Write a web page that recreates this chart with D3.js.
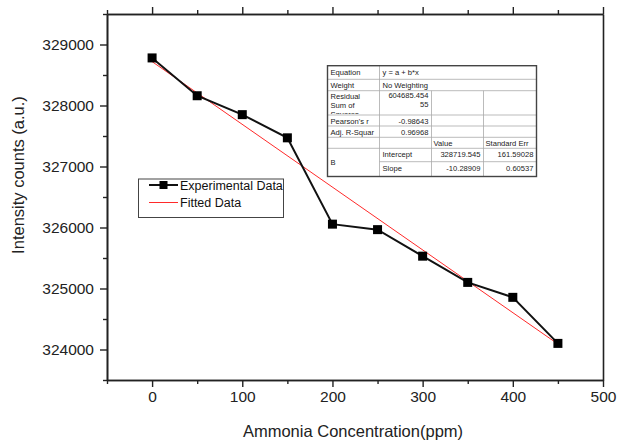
<!DOCTYPE html>
<html><head><meta charset="utf-8">
<script src="https://cdn.jsdelivr.net/npm/d3@7"></script>
<style>
html,body{margin:0;padding:0;background:#fff;}
text{font-family:"Liberation Sans",Arial,sans-serif;}
</style></head>
<body><svg id="c" width="617" height="441"></svg>
<script>
// ---- data ----
const concentration = [0, 50, 100, 150, 200, 250, 300, 350, 400, 450];
const intensity = [328780, 328160, 327850, 327470, 326055, 325965, 325530, 325100, 324855, 324100];
const fitX = [0, 450];
const fitY = [328719.545, 324089.455];
const xTicks = [0, 100, 200, 300, 400, 500];
const xMinor = [-50, 50, 150, 250, 350, 450];
const yTicks = [324000, 325000, 326000, 327000, 328000, 329000];
const yMinor = [323500, 324500, 325500, 326500, 327500, 328500, 329500];
const legendLabels = ["Experimental Data", "Fitted Data"];
const tableRowLabels = ["Equation", "Weight", "Residual Sum of Squares", "Pearson's r", "Adj. R-Square"];
const tableRowValues = ["y = a + b*x", "No Weighting", "604685.45455", "-0.98643", "0.96968"];
const tableColHeaders = ["Value", "Standard Err"];
const paramNames = ["Intercept", "Slope"];
const paramValues = ["328719.545", "-10.28909"];
const paramErrors = ["161.59028", "0.60537"];

const svg = d3.select("#c");
const L = 107, R = 603, T = 14, B = 380;
const x = d3.scaleLinear([-50, 500], [L, R]);
const y = d3.scaleLinear([323500, 329500], [B, T]);
const axisColor = "#222";

function styleAxis(g) {
  g.selectAll("path.domain").attr("stroke", axisColor).attr("stroke-width", 1.6);
  g.selectAll(".tick line").attr("stroke", axisColor).attr("stroke-width", 1.4);
  g.selectAll(".tick text").attr("fill", "#222").style("font-size", "15.5px")
    .style("font-family", "'Liberation Sans',Arial,sans-serif");
}
// bottom
svg.append("g").attr("transform", `translate(0,${B})`)
  .call(d3.axisBottom(x).tickValues(xMinor).tickSize(4).tickSizeOuter(0).tickFormat(""))
  .call(styleAxis);
svg.append("g").attr("transform", `translate(0,${B})`)
  .call(d3.axisBottom(x).tickValues(xTicks).tickSize(7).tickSizeOuter(0).tickPadding(4).tickFormat(d3.format("d")))
  .call(styleAxis);
// top
svg.append("g").attr("transform", `translate(0,${T})`)
  .call(d3.axisTop(x).tickValues(xMinor).tickSize(4).tickSizeOuter(0).tickFormat(""))
  .call(styleAxis);
svg.append("g").attr("transform", `translate(0,${T})`)
  .call(d3.axisTop(x).tickValues(xTicks).tickSize(7).tickSizeOuter(0).tickFormat(""))
  .call(styleAxis);
// left
svg.append("g").attr("transform", `translate(${L},0)`)
  .call(d3.axisLeft(y).tickValues(yMinor).tickSize(4).tickSizeOuter(0).tickFormat(""))
  .call(styleAxis);
svg.append("g").attr("transform", `translate(${L},0)`)
  .call(d3.axisLeft(y).tickValues(yTicks).tickSize(7).tickSizeOuter(0).tickPadding(6).tickFormat(d3.format("d")))
  .call(styleAxis);
// right
svg.append("g").attr("transform", `translate(${R},0)`)
  .call(d3.axisRight(y).tickValues([]).tickSizeOuter(0))
  .call(styleAxis);

// axis titles
svg.append("text").attr("x", 353).attr("y", 437).attr("text-anchor", "middle")
  .style("font-size", "16.5px").attr("fill", "#222").text("Ammonia Concentration(ppm)");
svg.append("text").attr("transform", `translate(24,${(T + B) / 2 - 22}) rotate(-90)`).attr("text-anchor", "middle")
  .style("font-size", "16.5px").attr("fill", "#222").text("Intensity counts (a.u.)");

// fitted line
svg.append("path").datum(fitX.map((d, i) => [d, fitY[i]]))
  .attr("d", d3.line().x(d => x(d[0])).y(d => y(d[1])))
  .attr("fill", "none").attr("stroke", "#ff2a2a").attr("stroke-width", 1);
// experimental line
const pts = concentration.map((d, i) => [d, intensity[i]]);
svg.append("path").datum(pts)
  .attr("d", d3.line().x(d => x(d[0])).y(d => y(d[1])))
  .attr("fill", "none").attr("stroke", "#111").attr("stroke-width", 2);
svg.selectAll("rect.m").data(pts).join("rect").attr("class", "m")
  .attr("x", d => x(d[0]) - 4.5).attr("y", d => y(d[1]) - 4.5)
  .attr("width", 9).attr("height", 9).attr("fill", "#000");

// legend
const lg = svg.append("g");
lg.append("rect").attr("x", 138.5).attr("y", 179).attr("width", 145).attr("height", 38.5)
  .attr("fill", "#fff").attr("stroke", "#444").attr("stroke-width", 1);
lg.append("line").attr("x1", 149).attr("x2", 178).attr("y1", 185).attr("y2", 185).attr("stroke", "#111").attr("stroke-width", 2);
lg.append("rect").attr("x", 159.5).attr("y", 181).attr("width", 8).attr("height", 8).attr("fill", "#000");
lg.append("line").attr("x1", 149).attr("x2", 178).attr("y1", 202.5).attr("y2", 202.5).attr("stroke", "#ff2a2a").attr("stroke-width", 1);
lg.selectAll("text").data(legendLabels).join("text")
  .attr("x", 180).attr("y", (d, i) => 189.5 + i * 17.5).style("font-size", "12.5px").attr("fill", "#111").text(d => d);

// stats table
const cols = [327.5, 379.5, 431.5, 483.5, 536.5];
const rows = [65.7, 79.3, 90.7, 115, 126, 137.3, 148.3, 161.7, 176.5];
const tg = svg.append("g");
tg.append("rect").attr("x", cols[0]).attr("y", rows[0]).attr("width", cols[4] - cols[0]).attr("height", rows[8] - rows[0])
  .attr("fill", "#fff");
const grid = "#aaa";
function hl(y0, x0, x1) { tg.append("line").attr("x1", x0).attr("x2", x1).attr("y1", y0).attr("y2", y0).attr("stroke", grid).attr("stroke-width", 0.8); }
function vl(x0, y0, y1) { tg.append("line").attr("x1", x0).attr("x2", x0).attr("y1", y0).attr("y2", y1).attr("stroke", grid).attr("stroke-width", 0.8); }
for (let i = 1; i <= 6; i++) hl(rows[i], cols[0], cols[4]);
hl(rows[7], cols[1], cols[4]);
vl(cols[1], rows[0], rows[8]);
vl(cols[2], rows[2], rows[8]);
vl(cols[3], rows[2], rows[8]);
tg.append("rect").attr("x", cols[0]).attr("y", rows[0]).attr("width", cols[4] - cols[0]).attr("height", rows[8] - rows[0])
  .attr("fill", "none").attr("stroke", "#444").attr("stroke-width", 1.4);
const fs = "7.6px";
function t(txt, xx, yy, anchor) {
  return tg.append("text").attr("x", xx).attr("y", yy).attr("text-anchor", anchor || "start")
    .style("font-size", fs).attr("fill", "#222").text(txt);
}
// residual label wraps inside its cell; the third line is cut off by the cell, as in the original
const resWords = ["Residual", "Sum of"];
resWords.forEach((w, i) => t(w, cols[0] + 3, rows[2] + 8 + i * 9));
tg.append("clipPath").attr("id", "clipRes").append("rect")
  .attr("x", cols[0]).attr("y", rows[2] + 19).attr("width", cols[1] - cols[0]).attr("height", rows[3] - rows[2] - 20);
tg.append("g").attr("clip-path", "url(#clipRes)")
  .append("text").attr("x", cols[0] + 3).attr("y", rows[2] + 26).style("font-size", fs).attr("fill", "#222").text("Squares");
t(tableRowLabels[0], cols[0] + 3, rows[0] + 9.5);
t(tableRowLabels[1], cols[0] + 3, rows[1] + 8.5);
t(tableRowLabels[3], cols[0] + 3, rows[3] + 8.5);
t("Adj. R-Squar", cols[0] + 3, rows[4] + 8.5);
t(tableRowValues[0], cols[1] + 3, rows[0] + 9);
t(tableRowValues[1], cols[1] + 3, rows[1] + 8.5);
t(tableRowValues[2].slice(0, 10), cols[2] - 3, rows[2] + 7.5, "end");
t(tableRowValues[2].slice(10), cols[2] - 3, rows[2] + 16.5, "end");
t(tableRowValues[3], cols[2] - 3, rows[3] + 8.5, "end");
t(tableRowValues[4], cols[2] - 3, rows[4] + 8.5, "end");
t(tableColHeaders[0], cols[2] + 2, rows[5] + 8.5);
t(tableColHeaders[1], cols[3] + 2, rows[5] + 8.5);
t("B", cols[0] + 3, (rows[6] + rows[8]) / 2 + 3);
paramNames.forEach((p, i) => {
  t(p, cols[1] + 3, rows[6 + i] + 9);
  t(paramValues[i], cols[3] - 3, rows[6 + i] + 9, "end");
  t(paramErrors[i], cols[4] - 3, rows[6 + i] + 9, "end");
});
</script></body></html>
